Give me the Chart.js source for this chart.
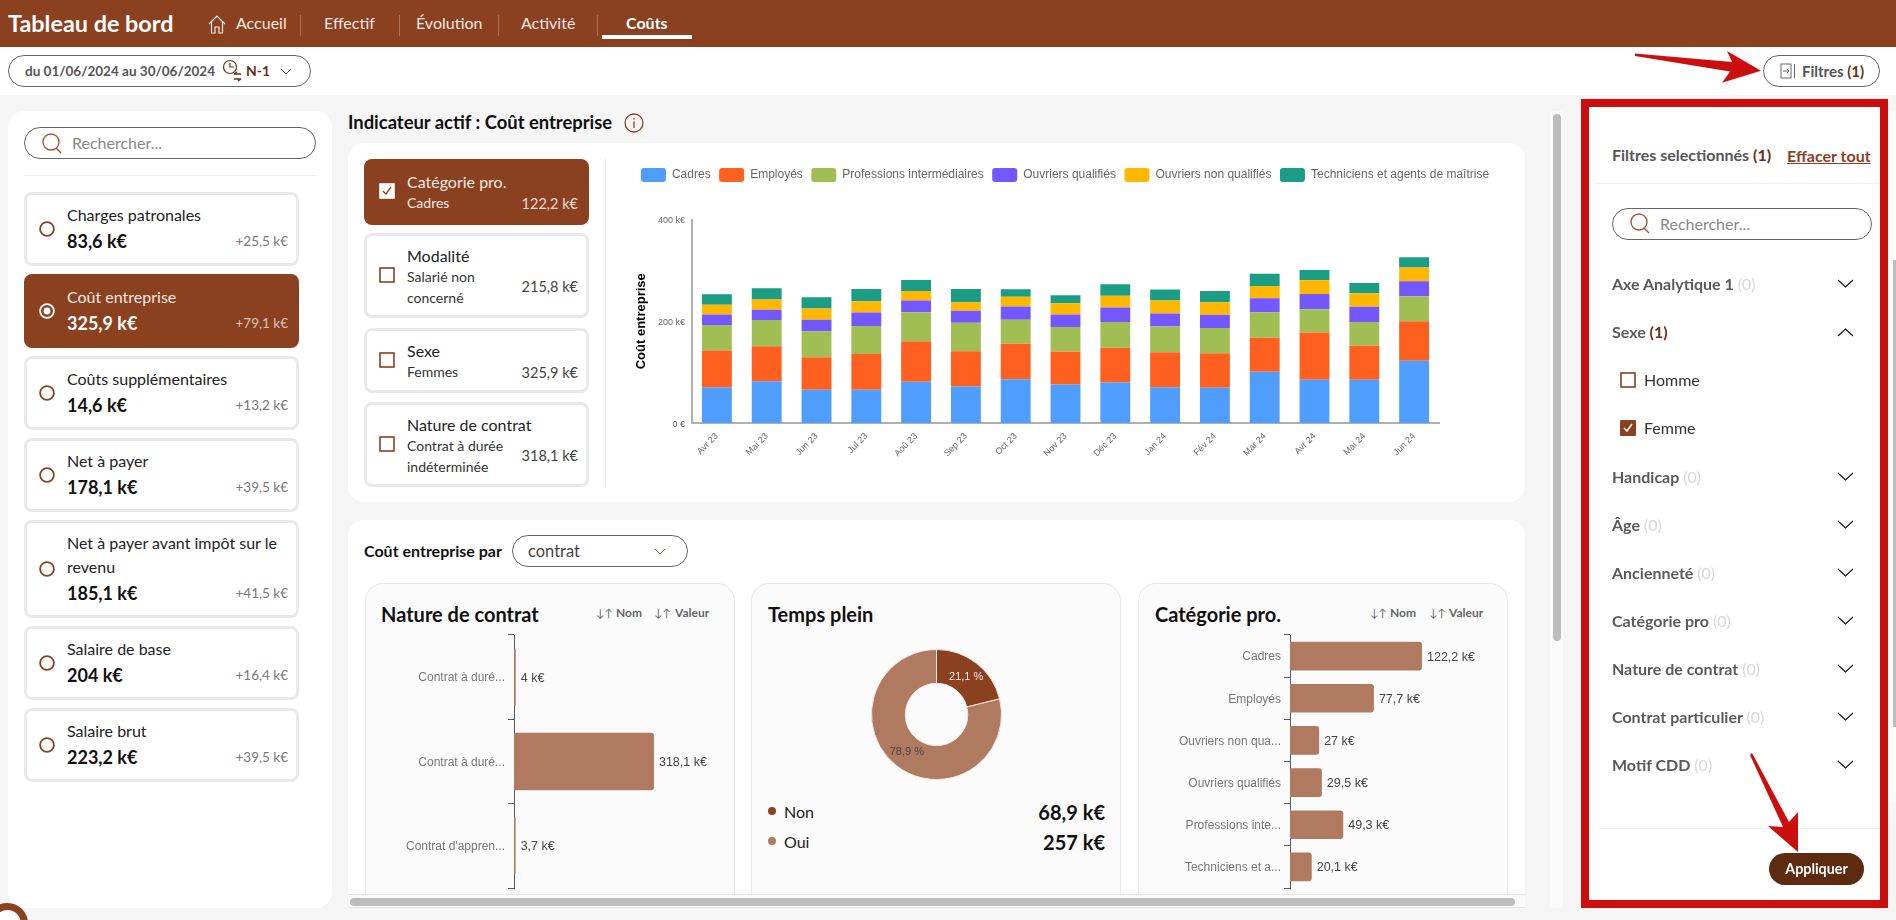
<!DOCTYPE html>
<html lang="fr">
<head>
<meta charset="utf-8">
<title>Tableau de bord</title>
<script src="https://cdn.jsdelivr.net/npm/chart.js@4"></script>
<style>
  html, body { margin: 0; padding: 0; background: #f5f5f5; }
  #page { position: relative; width: 1896px; height: 920px; overflow: hidden; background: #f5f5f5; font-family: Lato, sans-serif; color: #222; }
  #page div, #page canvas, #page svg { position: absolute; box-sizing: border-box; }
  #kpis, #filters, #accordion { left: 0; top: 0; width: 1896px; height: 920px; }
  .t { position: absolute; white-space: nowrap; line-height: 20px; transform: translateY(-50%); }
  .r { text-align: right; }
  .b { font-weight: 700; }
  .pill { border: 1px solid #666; border-radius: 17px; background: #fff; }
  .panel { background: #fff; border-radius: 16px; }
  .kcard { left: 24px; width: 275px; border: 3px solid #e9e9e9; border-radius: 8px; background: #fff; }
  .kcard.on { background: #8b401f; border-color: #8b401f; }
  .fcard { left: 364px; width: 225px; border: 3px solid #e9e9e9; border-radius: 8px; background: #fff; }
  .fcard.on { background: #8b401f; border-color: #8b401f; }
  .sub { border: 1px solid #e8e8e8; border-bottom: none; border-radius: 18px 18px 0 0; background: #fbfbfb; top: 583px; height: 311px; }
  .nav { font-size: 16px; color: #f3e9e4; top: 23px; }
  .sep { top: 15px; width: 1px; height: 21px; background: #a9745c; }
  .sort { font-size: 12px; font-weight: 700; color: #666; top: 613px; }
  .arr { font-weight: 400; font-size: 11px; }
  .acc { font-size: 16px; font-weight: 700; color: #5a5a5a; left: 1612px; }
  .acc span { font-weight: 400; color: #d8d8d8; }
  .dk { color: #6b2f14; }
</style>
</head>
<body>
<div id="page">

  <!-- top bar -->
  <div style="left:0;top:0;width:1896px;height:47px;background:#8b401f"></div>
  <span class="t b" style="left:8px;top:23px;font-size:23.4px;color:#fff">Tableau de bord</span>
  <svg style="left:208px;top:15px" width="18" height="19" viewBox="0 0 18 19" fill="none" stroke="#f3e9e4" stroke-width="1.2"><path d="M1 9 L9 1 L17 9 M3.5 7 V18 H7 V12 H11 V18 H14.5 V7"/></svg>
  <span class="t nav" style="left:236px">Accueil</span>
  <div class="sep" style="left:300px"></div>
  <span class="t nav" style="left:324px">Effectif</span>
  <div class="sep" style="left:399px"></div>
  <span class="t nav" style="left:416px">Évolution</span>
  <div class="sep" style="left:498px"></div>
  <span class="t nav" style="left:521px">Activité</span>
  <div class="sep" style="left:597px"></div>
  <span class="t nav b" style="left:626px;color:#fff">Coûts</span>
  <div style="left:602px;top:35px;width:90px;height:4px;background:#fff"></div>

  <!-- date bar -->
  <div style="left:0;top:47px;width:1896px;height:48px;background:#fff"></div>
  <div class="pill" style="left:8px;top:55px;width:303px;height:32px"></div>
  <span class="t b" style="left:25px;top:71px;font-size:13.5px;color:#555">du 01/06/2024 au 30/06/2024</span>
  <svg style="left:222px;top:59px" width="24" height="24" viewBox="0 0 24 24" fill="none" stroke="#6b2f14" stroke-width="1.2"><circle cx="8" cy="8" r="6.5"/><path d="M8 4 V8 H12"/><path d="M12 15 H19 M12 15 L15 13 M19 20 H12 M19 20 L16 22" stroke-width="1.5"/></svg>
  <span class="t b dk" style="left:246px;top:71px;font-size:14px">N-1</span>
  <svg style="left:280px;top:68px" width="12" height="8" viewBox="0 0 12 8" fill="none" stroke="#555"><path d="M1 1 L6 6 L11 1"/></svg>

  <div class="pill" style="left:1763px;top:55px;width:117px;height:32px"></div>
  <svg style="left:1780px;top:63px" width="16" height="16" viewBox="0 0 16 16" fill="none" stroke="#666"><rect x="1" y="1" width="10" height="14"/><path d="M14.5 1 V15 M3 8 H9 M7 6 L9 8 L7 10"/></svg>
  <span class="t b" style="left:1802px;top:71px;font-size:15px;color:#555">Filtres <span class="dk">(1)</span></span>

  <!-- indicateurs -->
  <div class="panel" style="left:8px;top:111px;width:324px;height:797px"></div>
  <div class="pill" style="left:24px;top:127px;width:292px;height:32px"></div>
  <svg style="left:41px;top:133px" width="22" height="22" viewBox="0 0 22 22" fill="none" stroke="#a8583a" stroke-width="1.4"><circle cx="10" cy="9" r="8"/><path d="M15 15 L20 20"/></svg>
  <span class="t" style="left:72px;top:143px;font-size:16px;color:#888">Rechercher...</span>
  <div style="left:24px;top:175px;width:292px;height:1px;background:#eee"></div>
  <div id="kpis"></div>

  <!-- indicateur actif -->
  <span class="t b" style="left:348px;top:122px;font-size:18.4px;color:#111">Indicateur actif : Coût entreprise</span>
  <svg style="left:624px;top:113px" width="20" height="20" viewBox="0 0 20 20" fill="none" stroke="#8b401f" stroke-width="1.3"><circle cx="10" cy="10" r="9"/><path d="M10 8.5 V15 M10 5 V6.4"/></svg>
  <div class="panel" style="left:348px;top:143px;width:1177px;height:359px"></div>
  <div id="filters"></div>
  <div style="left:605px;top:159px;width:1px;height:328px;background:#e8e8e8"></div>
  <canvas id="stackChart" width="906" height="332" style="left:612px;top:158px"></canvas>

  <!-- répartition -->
  <div class="panel" style="left:348px;top:520px;width:1177px;height:374px;border-radius:16px 16px 0 0"></div>
  <span class="t b" style="left:364px;top:551px;font-size:16px;color:#111">Coût entreprise par</span>
  <div class="pill" style="left:512px;top:535px;width:176px;height:32px"></div>
  <span class="t" style="left:528px;top:551px;font-size:16.5px;color:#444">contrat</span>
  <svg style="left:654px;top:548px" width="12" height="8" viewBox="0 0 12 8" fill="none" stroke="#a8583a"><path d="M1 1 L6 6 L11 1"/></svg>

  <div class="sub" style="left:365px;width:370px"></div>
  <div class="sub" style="left:751px;width:370px"></div>
  <div class="sub" style="left:1138px;width:370px"></div>

  <span class="t b" style="left:381px;top:614px;font-size:20px;color:#111">Nature de contrat</span>
  <span class="t sort arr" style="left:596px">↓↑</span><span class="t sort" style="left:616px">Nom</span>
  <span class="t sort arr" style="left:654px">↓↑</span><span class="t sort" style="left:675px">Valeur</span>
  <canvas id="contractChart" width="369" height="264" style="left:365px;top:630px"></canvas>

  <span class="t b" style="left:768px;top:614px;font-size:20px;color:#111">Temps plein</span>
  <canvas id="fullTimeChart" width="131" height="131" style="left:871px;top:649px"></canvas>
  <div style="left:768px;top:807px;width:8px;height:8px;border-radius:50%;background:#8b401f"></div>
  <span class="t" style="left:784px;top:812px;font-size:16px;color:#222">Non</span>
  <span class="t b r" style="right:791px;top:812px;font-size:20px;color:#111">68,9 k€</span>
  <div style="left:768px;top:837px;width:8px;height:8px;border-radius:50%;background:#af7a60"></div>
  <span class="t" style="left:784px;top:842px;font-size:16px;color:#222">Oui</span>
  <span class="t b r" style="right:791px;top:842px;font-size:20px;color:#111">257 k€</span>

  <span class="t b" style="left:1155px;top:614px;font-size:20px;color:#111">Catégorie pro.</span>
  <span class="t sort arr" style="left:1370px">↓↑</span><span class="t sort" style="left:1390px">Nom</span>
  <span class="t sort arr" style="left:1429px">↓↑</span><span class="t sort" style="left:1449px">Valeur</span>
  <canvas id="categoryChart" width="369" height="264" style="left:1138px;top:630px"></canvas>

  <!-- scrollbars -->
  <div style="left:348px;top:894px;width:1177px;height:14px;background:#fafafa;border-top:1px solid #e6e6e6;border-bottom:1px solid #e6e6e6"></div>
  <div style="left:350px;top:898px;width:1165px;height:8px;border-radius:4px;background:#bdbdbd"></div>
  <div style="left:1550px;top:111px;width:13px;height:797px;background:#fafafa"></div>
  <div style="left:1553px;top:114px;width:8px;height:527px;border-radius:4px;background:#bdbdbd"></div>
  <div style="left:1888px;top:111px;width:8px;height:692px;background:#fafafa"></div>
  <div style="left:1893px;top:260px;width:3px;height:467px;background:#bdbdbd"></div>

  <!-- filtres -->
  <div style="left:1581px;top:99px;width:307px;height:809px;border:8px solid #cc0e0e;background:#fff"></div>
  <span class="t b" style="left:1612px;top:155px;font-size:16px;color:#555">Filtres selectionnés <span class="dk">(1)</span></span>
  <span class="t b" style="left:1787px;top:156px;font-size:16px;color:#8b401f;text-decoration:underline">Effacer tout</span>
  <div style="left:1596px;top:183px;width:284px;height:1px;background:#eee"></div>
  <div class="pill" style="left:1612px;top:208px;width:260px;height:32px"></div>
  <svg style="left:1629px;top:213px" width="22" height="22" viewBox="0 0 22 22" fill="none" stroke="#a8583a" stroke-width="1.4"><circle cx="10" cy="9" r="8"/><path d="M15 15 L20 20"/></svg>
  <span class="t" style="left:1660px;top:224px;font-size:16px;color:#888">Rechercher...</span>
  <div id="accordion"></div>
  <div style="left:1596px;top:828px;width:284px;height:1px;background:#eee"></div>
  <div style="left:1769px;top:853px;width:95px;height:32px;border-radius:16px;background:#5e2a10"></div>
  <span class="t b" style="left:1769px;width:95px;text-align:center;top:869px;font-size:14.3px;color:#fff">Appliquer</span>

  <!-- annotation arrows -->
  <svg style="left:0;top:0" width="1896" height="920"><polygon fill="#cc0e0e" points="1635,53.5 1732,62 1727,51 1761,70.7 1722,82.7 1730,71.5 1635,56"/><polygon fill="#cc0e0e" points="1752,753 1789,822 1798,812 1798,852 1768,826 1783,827 1750,755"/></svg>

  <div style="left:-13px;top:903px;width:41px;height:41px;border-radius:50%;border:7px solid #8b401f;background:#fff"></div>
</div>

<script>
const MONTHS = ['Avr 23', 'Mai 23', 'Jun 23', 'Jul 23', 'Aoû 23', 'Sep 23', 'Oct 23', 'Nov 23', 'Déc 23', 'Jan 24', 'Fév 24', 'Mar 24', 'Avr 24', 'Mai 24', 'Jun 24'];
const CADRES = [69.8, 82.2, 65.3, 65.3, 80.9, 71.8, 86.1, 75.7, 79.6, 70.5, 69.2, 100.5, 84.8, 84.8, 122.2];
const EMPLOYES = [72.5, 68.5, 63.9, 70.4, 79.6, 69.1, 69.9, 64.6, 68.5, 68.5, 67.8, 67.2, 93.3, 67.2, 77.7];
const PROFESSIONS = [50.2, 51.6, 50.9, 54.8, 57.4, 56.2, 46.9, 48.3, 50.3, 50.9, 49.6, 50.2, 45.7, 46.4, 49.3];
const OUVRIERS_Q = [20.9, 20.2, 22.8, 26.8, 22.9, 23.4, 26.1, 24.8, 28.7, 25.4, 26.1, 27.4, 30, 30, 29.5];
const OUVRIERS_NQ = [18.9, 20.2, 22.2, 22.2, 18.9, 17, 19, 22.2, 22.8, 25.5, 24.8, 24.2, 26.8, 26.7, 27];
const TECHNICIENS = [20.9, 22.2, 22.2, 24.1, 21.5, 26.1, 15, 15.6, 22.8, 21.5, 22.2, 24.1, 20.2, 20.3, 20.1];

const CONTRACT_LABELS = ['Contrat à duré...', 'Contrat à duré...', "Contrat d'appren..."];
const CONTRACT_VALUES = [4, 318.1, 3.7];

const FULLTIME_LABELS = ['Non', 'Oui'];
const FULLTIME_VALUES = [68.9, 257];
const FULLTIME_PERCENTS = ['21,1 %', '78,9 %'];

const CATEGORY_LABELS = ['Cadres', 'Employés', 'Ouvriers non qua...', 'Ouvriers qualifiés', 'Professions inte...', 'Techniciens et a...'];
const CATEGORY_VALUES = [122.2, 77.7, 27, 29.5, 49.3, 20.1];

const KPI_NAMES = ['Charges patronales', 'Coût entreprise', 'Coûts supplémentaires', 'Net à payer', 'Net à payer avant impôt sur le<br>revenu', 'Salaire de base', 'Salaire brut'];
const KPI_VALUES = ['83,6 k€', '325,9 k€', '14,6 k€', '178,1 k€', '185,1 k€', '204 k€', '223,2 k€'];
const KPI_DELTAS = ['+25,5 k€', '+79,1 k€', '+13,2 k€', '+39,5 k€', '+41,5 k€', '+16,4 k€', '+39,5 k€'];

const BROWN = '#8b401f';
const BROWN_LIGHT = '#af7a60';

// html bits around the charts
function buildKpis() {
  let y = 192, html = '';
  KPI_NAMES.forEach((name, i) => {
    const on = i === 1, long = name.includes('<br>');
    const h = long ? 98 : 74;
    const mid = y + (long ? 49 : 37);
    const valueY = y + (long ? 73 : 49);
    html += `<div class="kcard${on ? ' on' : ''}" style="top:${y}px;height:${h}px"></div>`;
    html += `<svg style="left:39px;top:${mid - 8}px" width="16" height="16" viewBox="0 0 16 16" fill="none" stroke="${on ? '#fff' : BROWN}" stroke-width="1.8"><circle cx="8" cy="8" r="6.9"/>${on ? '<circle cx="8" cy="8" r="3.4" fill="#fff" stroke="none"/>' : ''}</svg>`;
    html += `<span class="t" style="left:67px;top:${y + 23}px;font-size:16px;line-height:24px;transform:translateY(-12px);color:${on ? '#f3e9e4' : '#222'}">${name}</span>`;
    html += `<span class="t b" style="left:67px;top:${valueY}px;font-size:18px;color:${on ? '#fff' : '#111'}">${KPI_VALUES[i]}</span>`;
    html += `<span class="t r" style="right:${1896 - 288}px;top:${valueY}px;font-size:13.5px;color:${on ? '#dcc4b8' : '#777'}">${KPI_DELTAS[i]}</span>`;
    y += h + 8;
  });
  document.getElementById('kpis').innerHTML = html;
}

function buildFilters() {
  const rows = [
    [159, 66, 'Catégorie pro.', ['Cadres'], '122,2 k€'],
    [233, 85, 'Modalité', ['Salarié non', 'concerné'], '215,8 k€'],
    [328, 65, 'Sexe', ['Femmes'], '325,9 k€'],
    [402, 85, 'Nature de contrat', ['Contrat à durée', 'indéterminée'], '318,1 k€'],
  ];
  let html = '';
  rows.forEach((r, i) => {
    const on = i === 0, y = r[0], h = r[1], two = r[3].length > 1;
    const col = on ? '#f3e9e4' : '#333';
    html += `<div class="fcard${on ? ' on' : ''}" style="top:${y}px;height:${h}px"></div>`;
    html += `<svg style="left:379px;top:${y + h / 2 - 9}px" width="16" height="16" viewBox="0 0 16 16"><rect x="1" y="1" width="14" height="14" fill="${on ? '#fff' : 'none'}" stroke="${on ? '#fff' : BROWN}" stroke-width="1.6"/>${on ? `<path d="M4 8 L7 11 L12 4" fill="none" stroke="${BROWN}" stroke-width="1.3"/>` : ''}</svg>`;
    html += `<span class="t" style="left:407px;top:${y + 23}px;font-size:16px;color:${on ? '#f3e9e4' : '#222'}">${r[2]}</span>`;
    r[3].forEach((line, j) => {
      html += `<span class="t" style="left:407px;top:${y + 44 + j * 21}px;font-size:14px;color:${col}">${line}</span>`;
    });
    html += `<span class="t r" style="right:${1896 - 578}px;top:${y + (two ? 54 : 45)}px;font-size:14.5px;color:${on ? '#ecdcd4' : '#444'}">${r[4]}</span>`;
  });
  document.getElementById('filters').innerHTML = html;
}

function buildAccordion() {
  const rows = [
    [284, 'Axe Analytique 1', '(0)'], [332, 'Sexe', '(1)'], [477, 'Handicap', '(0)'], [525, 'Âge', '(0)'],
    [573, 'Ancienneté', '(0)'], [621, 'Catégorie pro', '(0)'], [669, 'Nature de contrat', '(0)'],
    [717, 'Contrat particulier', '(0)'], [765, 'Motif CDD', '(0)'],
  ];
  let html = '';
  rows.forEach(r => {
    const open = r[1] === 'Sexe';
    html += `<span class="t acc" style="top:${r[0]}px">${r[1]} <span${open ? ' class="b dk" style="font-weight:700;color:#6b2f14"' : ''}>${r[2]}</span></span>`;
    html += `<svg style="left:1837px;top:${r[0] - 5}px" width="17" height="10" viewBox="0 0 17 10" fill="none" stroke="#111" stroke-width="1.2"><path d="${open ? 'M1 9 L8.5 2 L16 9' : 'M1 1 L8.5 8 L16 1'}"/></svg>`;
  });
  html += `<svg style="left:1620px;top:372px" width="16" height="16" viewBox="0 0 16 16"><rect x="1" y="1" width="14" height="14" fill="none" stroke="${BROWN}" stroke-width="1.6"/></svg>`;
  html += `<span class="t" style="left:1644px;top:380px;font-size:16px;color:#333">Homme</span>`;
  html += `<svg style="left:1620px;top:420px" width="16" height="16" viewBox="0 0 16 16"><rect x="0" y="0" width="16" height="16" rx="1" fill="${BROWN}"/><path d="M4 8 L7 11 L12 4" fill="none" stroke="#fff" stroke-width="1.5"/></svg>`;
  html += `<span class="t" style="left:1644px;top:428px;font-size:16px;color:#333">Femme</span>`;
  document.getElementById('accordion').innerHTML = html;
}

buildKpis();
buildFilters();
buildAccordion();

Chart.defaults.animation = false;
Chart.defaults.font.family = '"Liberation Sans", Arial, sans-serif';
Chart.defaults.plugins.tooltip.enabled = false;

function frNumber(v) {
  return String(v).replace('.', ',');
}

// keeps the plot area where we want it, tick labels may overflow
function noScalePadding(s) {
  s.paddingTop = 0;
  s.paddingBottom = 0;
  s.paddingLeft = 0;
  s.paddingRight = 0;
}

// value written at the end of each horizontal bar
const barValues = {
  id: 'barValues',
  afterDatasetsDraw(chart) {
    const ctx = chart.ctx;
    const meta = chart.getDatasetMeta(0);
    ctx.save();
    ctx.font = '12.5px "Liberation Sans", Arial, sans-serif';
    ctx.fillStyle = '#444';
    ctx.textBaseline = 'middle';
    meta.data.forEach((bar, i) => {
      ctx.fillText(frNumber(chart.data.datasets[0].data[i]) + ' k€', bar.x + 5, bar.y + 1);
    });
    ctx.restore();
  }
};

// percent text inside the doughnut slices
const arcPercents = {
  id: 'arcPercents',
  afterDatasetsDraw(chart) {
    const ctx = chart.ctx;
    ctx.save();
    ctx.font = '11px "Liberation Sans", Arial, sans-serif';
    ctx.textAlign = 'center';
    ctx.textBaseline = 'middle';
    chart.getDatasetMeta(0).data.forEach((arc, i) => {
      const p = arc.tooltipPosition();
      ctx.fillStyle = i === 0 ? '#eee' : '#444';
      ctx.fillText(FULLTIME_PERCENTS[i], p.x, p.y);
    });
    ctx.restore();
  }
};

// gap under the legend
const legendGap = {
  id: 'legendGap',
  beforeInit(chart) {
    const fit = chart.legend.fit;
    chart.legend.fit = function () {
      fit.call(this);
      this.height += 27.5;
    };
  }
};

function stackSet(label, data, color) {
  return { label: label, data: data, yAxisID: 'y', backgroundColor: color, barPercentage: 0.75, categoryPercentage: 0.8, stack: 'a' };
}

new Chart(document.getElementById('stackChart'), {
  type: 'bar',
  data: {
    labels: MONTHS,
    datasets: [
      stackSet('Cadres', CADRES, '#4f9eff'),
      stackSet('Employés', EMPLOYES, '#ff5f1f'),
      stackSet('Professions intermédiaires', PROFESSIONS, '#a1be55'),
      stackSet('Ouvriers qualifiés', OUVRIERS_Q, '#7357ff'),
      stackSet('Ouvriers non qualifiés', OUVRIERS_NQ, '#ffb700'),
      stackSet('Techniciens et agents de maîtrise', TECHNICIENS, '#1a9c85'),
    ]
  },
  options: {
    responsive: false,
    layout: { padding: { top: 1.5 } },
    plugins: {
      legend: {
        position: 'top',
        labels: { boxWidth: 25, boxHeight: 14, padding: 8.5, color: '#666', font: { size: 12 }, useBorderRadius: true, borderRadius: 3 }
      }
    },
    scales: {
      x: {
        stacked: true,
        grid: { display: false, drawTicks: false },
        border: { color: '#b0b0b0', width: 2 },
        ticks: { minRotation: 45, maxRotation: 45, color: '#666', font: { size: 9 }, padding: 8 },
        afterFit: s => { noScalePadding(s); s.height = 67; }
      },
      y: {
        stacked: true,
        min: 0,
        max: 400,
        grid: { display: false, drawTicks: false },
        border: { color: '#b0b0b0', width: 2 },
        title: { display: true, text: 'Coût entreprise', color: '#000', font: { size: 13, weight: 'bold' }, padding: { top: 22, bottom: 0 } },
        ticks: {
          stepSize: 200,
          color: '#666',
          font: { size: 9 },
          padding: 7,
          labelOffset: 1.5,
          callback: v => (v === 0 ? '0 €' : v + ' k€')
        },
        afterFit: s => { noScalePadding(s); s.width = 80; }
      },
      // empty axis on the right, leaves room without narrowing the legend
      spacer: {
        position: 'right',
        grid: { display: false },
        border: { display: false },
        ticks: { display: false },
        afterFit: s => { noScalePadding(s); s.width = 79; }
      }
    }
  },
  plugins: [legendGap]
});

function hbarOptions(xMax, leftWidth, rightPad) {
  return {
    responsive: false,
    indexAxis: 'y',
    layout: { padding: { top: 5, bottom: 6, right: rightPad } },
    plugins: { legend: { display: false } },
    scales: {
      x: { display: false, min: 0, max: xMax },
      y: {
        grid: { drawOnChartArea: false, tickLength: 6, color: '#5a5a66' },
        border: { color: '#5a5a66' },
        ticks: { color: '#777', font: { size: 12 }, padding: 3, labelOffset: 1, autoSkip: false },
        afterFit: s => { noScalePadding(s); s.width = leftWidth; }
      }
    }
  };
}

new Chart(document.getElementById('contractChart'), {
  type: 'bar',
  data: {
    labels: CONTRACT_LABELS,
    datasets: [{ data: CONTRACT_VALUES, backgroundColor: BROWN_LIGHT, barPercentage: 0.85, categoryPercentage: 0.8, borderRadius: { topRight: 3, bottomRight: 3 } }]
  },
  options: hbarOptions(400, 149, 44),
  plugins: [barValues]
});

new Chart(document.getElementById('fullTimeChart'), {
  type: 'doughnut',
  data: {
    labels: FULLTIME_LABELS,
    datasets: [{ data: FULLTIME_VALUES, backgroundColor: [BROWN, BROWN_LIGHT], borderColor: '#f0e6e0', borderWidth: 1 }]
  },
  options: {
    responsive: false,
    cutout: '48%',
    plugins: { legend: { display: false } }
  },
  plugins: [arcPercents]
});

new Chart(document.getElementById('categoryChart'), {
  type: 'bar',
  data: {
    labels: CATEGORY_LABELS,
    datasets: [{ data: CATEGORY_VALUES, backgroundColor: BROWN_LIGHT, barPercentage: 0.85, categoryPercentage: 0.8, borderRadius: { topRight: 3, bottomRight: 3 } }]
  },
  options: hbarOptions(150, 152, 55),
  plugins: [barValues]
});
</script>
</body>
</html>
